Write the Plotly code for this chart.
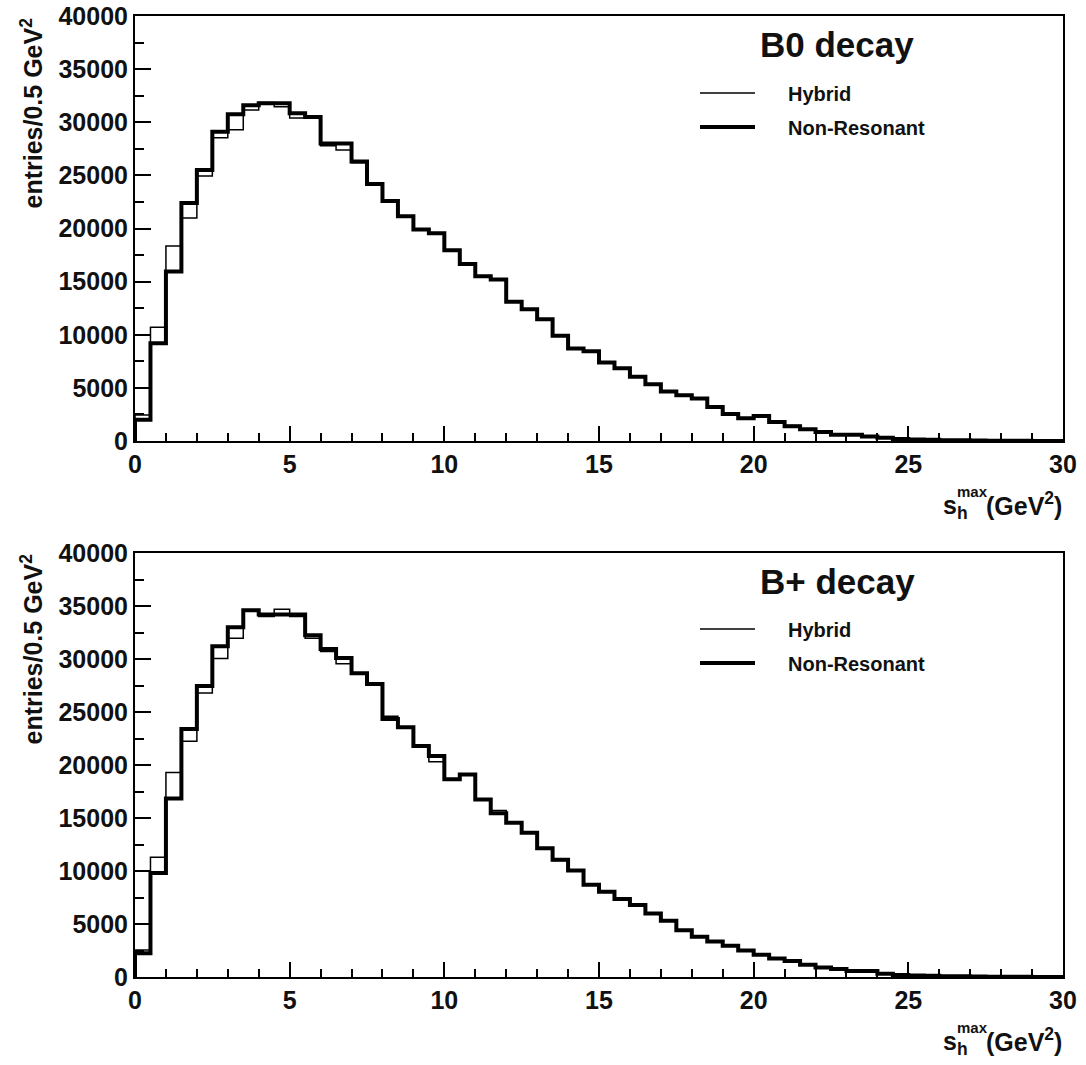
import plotly.graph_objects as go

W, H = 1086, 1065

# bin edges: 0 .. 30 GeV^2 in 0.5 GeV^2 steps
bin_width = 0.5
n_bins = 60
edges = [i * bin_width for i in range(n_bins + 1)]

# ---- B0 decay (top panel) ----
b0_nonres = [2000, 9200, 15950, 22400, 25500, 29100, 30750, 31600, 31800, 31800,
             30850, 30500, 28000, 28000, 26300, 24200, 22600, 21150, 19900, 19550,
             17950, 16650, 15500, 15200, 13100, 12400, 11450, 9900, 8700, 8450,
             7400, 6850, 6050, 5350, 4650, 4300, 4000, 3200, 2550, 2150,
             2350, 1800, 1400, 1100, 850, 600, 600, 420, 300, 200,
             150, 110, 80, 60, 40, 30, 20, 15, 10, 5]
b0_hybrid = [2450, 10700, 18350, 21000, 24950, 28550, 29300, 31150, 31850, 31450,
             30400, 30400, 27800, 27400, 26200, 24100, 22500, 21100, 19850, 19500,
             18000, 16600, 15450, 15150, 13150, 12350, 11500, 9850, 8650, 8400,
             7350, 6900, 6000, 5300, 4600, 4250, 3950, 3250, 2500, 2150,
             2300, 1850, 1450, 1150, 900, 650, 560, 440, 310, 210,
             160, 120, 90, 60, 45, 30, 20, 15, 10, 5]

# ---- B+ decay (bottom panel) ----
bp_nonres = [2250, 9800, 16850, 23400, 27450, 31200, 33000, 34600, 34200, 34200,
             34200, 32250, 30950, 30100, 28650, 27650, 24350, 23550, 21800, 20850,
             18650, 19100, 16750, 15450, 14550, 13600, 12150, 11050, 10050, 8700,
             8050, 7350, 6800, 6000, 5300, 4400, 3800, 3350, 2950, 2500,
             2100, 1750, 1500, 1150, 900, 750, 570, 560, 300, 200,
             150, 110, 80, 60, 40, 30, 20, 15, 10, 5]
bp_hybrid = [2550, 11300, 19300, 22250, 26800, 30050, 31950, 34500, 34000, 34700,
             34000, 31950, 30700, 29550, 28550, 27550, 24600, 23500, 21750, 20300,
             18600, 19050, 16700, 15700, 14500, 13550, 12100, 11000, 10000, 8650,
             8000, 7300, 6750, 5950, 5250, 4350, 3800, 3300, 2900, 2450,
             2050, 1750, 1450, 1150, 900, 720, 580, 540, 310, 210,
             160, 120, 85, 60, 45, 30, 20, 15, 10, 5]

x_ticks = [0, 5, 10, 15, 20, 25, 30]
y_ticks = [0, 5000, 10000, 15000, 20000, 25000, 30000, 35000, 40000]
y_ticktext = [str(v) for v in y_ticks]
titles = ["B0 decay", "B+ decay"]
legend_labels = ["Hybrid", "Non-Resonant"]
ytitle = "entries/0.5 GeV<sup>2</sup>"

FONT = "Liberation Sans"


def step_xy(vals):
    xs = [edges[0]] + edges
    ys = [0] + list(vals) + [vals[-1]]
    return xs, ys


fig = go.Figure()

panels = [("x", "y", b0_hybrid, b0_nonres), ("x2", "y2", bp_hybrid, bp_nonres)]
for xa, ya, hyb, nr in panels:
    xs, ys = step_xy(hyb)
    fig.add_trace(go.Scatter(x=xs, y=ys, mode="lines", line=dict(shape="hv", color="black", width=1.5),
                             xaxis=xa, yaxis=ya, showlegend=False, name=legend_labels[0]))
    xs, ys = step_xy(nr)
    fig.add_trace(go.Scatter(x=xs, y=ys, mode="lines", line=dict(shape="hv", color="black", width=4),
                             xaxis=xa, yaxis=ya, showlegend=False, name=legend_labels[1]))

def px(v):
    return v / W

def py(v):
    return 1 - v / H

xdom = [px(135), px(1063)]
top_dom = [py(441), py(16)]
bot_dom = [py(977), py(553)]

tickfont = dict(family=FONT, size=25, color="#111", weight="bold")

xcommon = dict(range=[0, 30], tickvals=x_ticks, ticktext=[str(v) for v in x_ticks],
               ticks="inside", ticklen=15, tickwidth=1.5, automargin=False,
               tickcolor="black", showline=True, linecolor="black", linewidth=2, mirror=True,
               showgrid=False, zeroline=False, tickfont=tickfont, domain=xdom,
               minor=dict(dtick=1, ticks="inside", ticklen=8, tickwidth=1.5, tickcolor="black", showgrid=False))
ycommon = dict(range=[0, 40000], tickvals=y_ticks, ticktext=y_ticktext,
               ticks="inside", ticklen=16, tickwidth=1.5, automargin=False,
               tickcolor="black", showline=True, linecolor="black", linewidth=2, mirror=True,
               showgrid=False, zeroline=False, tickfont=tickfont,
               minor=dict(dtick=2500, ticks="inside", ticklen=9, tickwidth=1.5, tickcolor="black", showgrid=False))

fig.update_layout(
    width=W, height=H, margin=dict(l=0, r=0, t=0, b=0, autoexpand=False),
    paper_bgcolor="white", plot_bgcolor="white",
    xaxis=dict(**xcommon, anchor="y"),
    yaxis=dict(**ycommon, domain=top_dom, anchor="x"),
    xaxis2=dict(**xcommon, anchor="y2"),
    yaxis2=dict(**ycommon, domain=bot_dom, anchor="x2"),
)

annotations = []
shapes = []
for i, (off, ttl) in enumerate(zip([0, 536], titles)):
    # panel title
    annotations.append(dict(text="<b>%s</b>" % ttl, x=px(837), y=py(45 + off), xref="paper", yref="paper",
                            xanchor="center", yanchor="middle", showarrow=False,
                            font=dict(family=FONT, size=35, color="#111")))
    # legend
    for j, (lab, lw, yy) in enumerate(zip(legend_labels, [1.5, 4], [93, 127])):
        shapes.append(dict(type="line", xref="paper", yref="paper", x0=px(700), x1=px(755),
                           y0=py(yy + off), y1=py(yy + off), line=dict(color="black", width=lw)))
        annotations.append(dict(text="<b>%s</b>" % lab, x=px(786), y=py(yy + 1 + off), xref="paper", yref="paper",
                                xanchor="left", yanchor="middle", showarrow=False,
                                font=dict(family=FONT, size=20, color="#111")))
    # y title
    annotations.append(dict(text="<b>%s</b>" % ytitle, x=px(31), y=py(16 + off), xref="paper", yref="paper",
                            xanchor="center", yanchor="top", textangle=-90, showarrow=False,
                            font=dict(family=FONT, size=25, color="#111")))
    # x title pieces
    annotations.append(dict(text="<b>s<sub>h</sub></b>", x=px(941), y=py(507 + off), xref="paper", yref="paper",
                            xanchor="left", yanchor="middle", showarrow=False,
                            font=dict(family=FONT, size=25, color="#111")))
    annotations.append(dict(text="<b>max</b>", x=px(955), y=py(491 + off), xref="paper", yref="paper",
                            xanchor="left", yanchor="middle", showarrow=False,
                            font=dict(family=FONT, size=15, color="#111")))
    annotations.append(dict(text="<b>(GeV<sup>2</sup>)</b>", x=px(1064), y=py(504 + off), xref="paper", yref="paper",
                            xanchor="right", yanchor="middle", showarrow=False,
                            font=dict(family=FONT, size=25, color="#111")))

fig.update_layout(annotations=annotations, shapes=shapes)

fig.write_html("out.html")
